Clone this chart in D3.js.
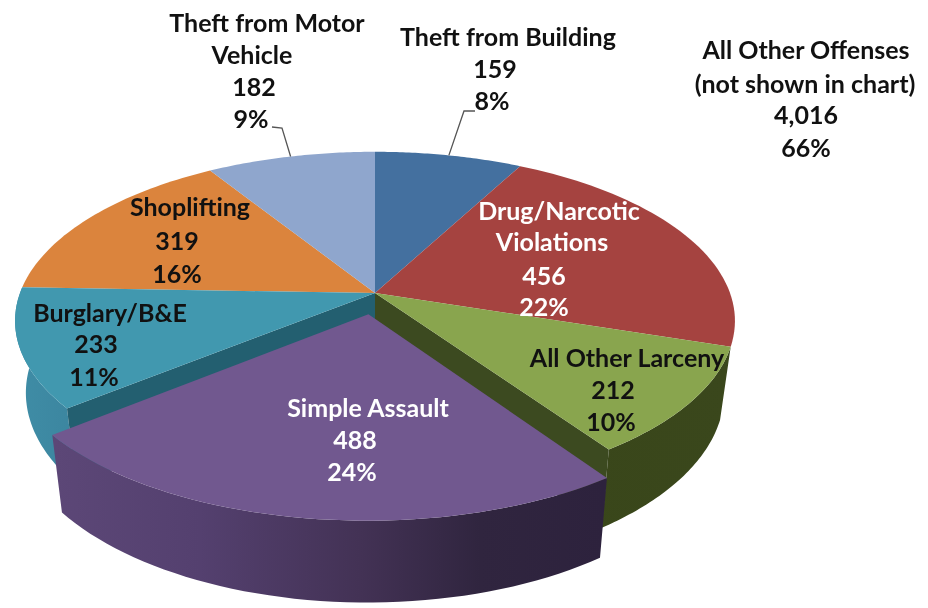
<!DOCTYPE html>
<html><head><meta charset="utf-8">
<script src="https://cdn.jsdelivr.net/npm/d3@7"></script>
<style>html,body{margin:0;padding:0;background:#fff}svg{display:block;filter:blur(0.5px)}text{font-family:Lato,"Open Sans",sans-serif;font-weight:700}</style>
</head><body><svg id="c" width="928" height="608"></svg>
<script>
// ---- data ----
const categories = ["Theft from Building","Drug/Narcotic Violations","All Other Larceny","Simple Assault","Burglary/B&E","Shoplifting","Theft from Motor Vehicle"];
const values = [159,456,212,488,233,319,182];
const percents = ["8%","22%","10%","24%","11%","16%","9%"];
const nameLines = [["Theft from Building"],["Drug/Narcotic","Violations"],["All Other Larceny"],["Simple Assault"],["Burglary/B&E"],["Shoplifting"],["Theft from Motor","Vehicle"]];
const otherLines = ["All Other Offenses","(not shown in chart)"];
const otherValue = "4,016";
const otherPercent = "66%";

// ---- style ----
const topColors = ["#44709f","#a54340","#89a54e","#71588f","#4198af","#db843d","#8fa6cd"];
const wallColors = [null,null,"#3c4a20",null,"#235f70",null,null];
const labelColors = ["#111","#fff","#111","#fff","#111","#111","#111"];

// ---- layout: [x centre, baseline y] of each text line ----
const labelLayout = [
 [[508,46],[495,78],[492,110]],
 [[559,220],[552,251],[544,285],[544,316]],
 [[627,367],[613,399],[611,431]],
 [[368,417],[355,449],[352,481]],
 [[110,322],[96,353],[94,386]],
 [[190,216],[177,250],[177,283]],
 [[267,32],[252,64],[254,96],[251,128]]
];
const otherLayout = [[806,59],[805,93],[806,124],[806,157]];
const leaderElbows = {0:[[475,111],[464,111]],6:[[272,127],[282,128]]};

// ---- pseudo-3D projection of the disc ----
const cx=375, cy=293, R=355, H=164.5, P=0.165;
const depth=70.5, kx=0.97, ky=1.05;
const explode={3:0.128};
function proj(theta,r,off,bottom){
  const u=r*Math.sin(theta)+off.u, v=r*Math.cos(theta)+off.v;
  const s=1/(1+P*v);
  return bottom ? [cx+kx*R*u*s, cy+depth-ky*H*v*s] : [cx+R*u*s, cy-H*v*s];
}
const line=d3.line();
const pie=d3.pie().sort(null).value(d=>d);
const arcs=pie(values);
function thetas(a,n=48){return d3.range(n+1).map(i=>a.startAngle+(a.endAngle-a.startAngle)*i/n);}
function offset(i,a){
  const d=explode[i]||0, m=(a.startAngle+a.endAngle)/2;
  return {u:d*Math.sin(m),v:d*Math.cos(m)};
}
const svg=d3.select("#c");
const defs=svg.append("defs");
function grad(id,stops){
  const g=defs.append("linearGradient").attr("id",id).attr("gradientUnits","userSpaceOnUse")
    .attr("x1",stops[0][0]).attr("x2",stops[stops.length-1][0]).attr("y1",0).attr("y2",0);
  const x0=stops[0][0],x1=stops[stops.length-1][0];
  stops.forEach(s=>g.append("stop").attr("offset",(s[0]-x0)/(x1-x0)).attr("stop-color",s[1]));
}
grad("sideAssault",[[55,"#5c4777"],[200,"#54406f"],[360,"#433255"],[480,"#30253f"],[605,"#2d223d"]]);
grad("sideBurglary",[[16,"#3f8da6"],[70,"#3c86a0"]]);
grad("sideGreen",[[520,"#394619"],[735,"#3a471c"]]);
const sideFill={2:"url(#sideGreen)",3:"url(#sideAssault)",4:"url(#sideBurglary)"};

function topPath(i){
  const a=arcs[i],o=offset(i,a);
  const pts=[proj(0,0,o,false),...thetas(a).map(t=>proj(t,1,o,false))];
  return line(pts)+"Z";
}
function sidePath(i){
  const a=arcs[i],o=offset(i,a),ts=thetas(a);
  return line([...ts.map(t=>proj(t,1,o,false)),...ts.slice().reverse().map(t=>proj(t,1,o,true))])+"Z";
}
function wallPath(i,t){
  const o={u:0,v:0};
  return line([proj(0,0,o,false),proj(t,1,o,false),proj(t,1,o,true),proj(0,0,o,true)])+"Z";
}
[0,1,5,6].forEach(i=>svg.append("path").attr("d",topPath(i)).attr("fill",topColors[i]));
[2,4].forEach(i=>svg.append("path").attr("d",sidePath(i)).attr("fill",sideFill[i]));
svg.append("path").attr("d",wallPath(2,arcs[2].endAngle)).attr("fill",wallColors[2]);
svg.append("path").attr("d",wallPath(4,arcs[4].startAngle)).attr("fill",wallColors[4]);
[2,4].forEach(i=>svg.append("path").attr("d",topPath(i)).attr("fill",topColors[i]));
svg.append("path").attr("d",sidePath(3)).attr("fill",sideFill[3]);
svg.append("path").attr("d",topPath(3)).attr("fill",topColors[3]);

Object.keys(leaderElbows).forEach(k=>{
  const i=+k,a=arcs[i],m=(a.startAngle+a.endAngle)/2;
  svg.append("path").attr("d",line([...leaderElbows[i],proj(m,1,{u:0,v:0},false)]))
    .attr("fill","none").attr("stroke","#555").attr("stroke-width",1.3);
});
const FS=25;
function put(str,pos,fill){
  svg.append("text").attr("x",pos[0]).attr("y",pos[1]).attr("text-anchor","middle")
    .attr("font-size",FS).attr("fill",fill).text(str);
}
categories.forEach((c,i)=>{
  const ls=[...nameLines[i],String(values[i]),percents[i]];
  ls.forEach((s,j)=>put(s,labelLayout[i][j],labelColors[i]));
});
[...otherLines,otherValue,otherPercent].forEach((s,j)=>put(s,otherLayout[j],"#111"));
</script></body></html>
